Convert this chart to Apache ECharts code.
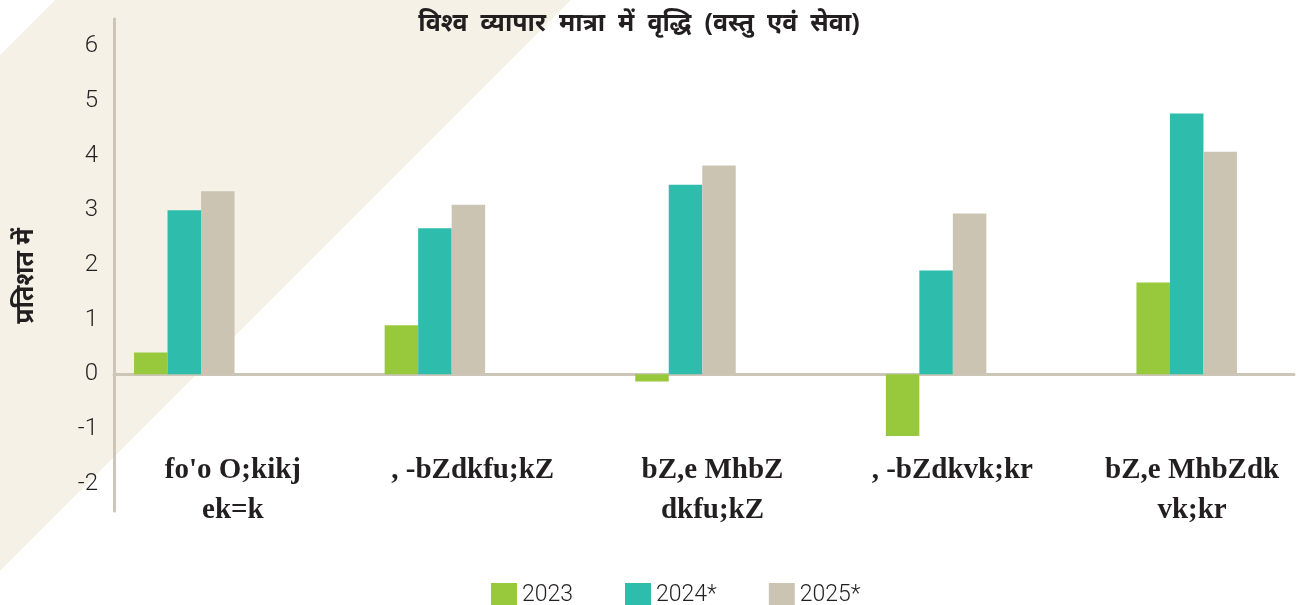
<!DOCTYPE html>
<html>
<head>
<meta charset="utf-8">
<title>विश्व व्यापार मात्रा में वृद्धि</title>
<script src="https://cdn.jsdelivr.net/npm/echarts@6/dist/echarts.min.js"></script>
<style>
  * { margin: 0; padding: 0 }
  html, body { width: 100%; height: 100%; background: #fff; }
  #main { width: 1312px; height: 605px; }
</style>
</head>
<body>
<div id="main"></div>
<script>
// categories (legacy font-encoded labels, as shown in the picture)
var categories = ["fo'o O;kikj\nek=k", ", -bZdkfu;kZ", "bZ,e MhbZ\ndkfu;kZ", ", -bZdkvk;kr", "bZ,e MhbZdk\nvk;kr"];
var seriesNames = ['2023', '2024*', '2025*'];
var values2023 = [0.4, 0.9, -0.13, -1.13, 1.68];
var values2024 = [3.0, 2.67, 3.47, 1.9, 4.77];
var values2025 = [3.35, 3.1, 3.82, 2.94, 4.07];
var yTicks = [-2, -1, 0, 1, 2, 3, 4, 5, 6];

var colors = ['#98c83c', '#2ebcad', '#cbc4b3'];
var axisColor = '#cbc6b7';
var textColor = '#231f20';
var numFont = 'Roboto';

var chart = echarts.init(document.getElementById('main'));

function yAxisHidden(grid) {
  return { gridIndex: grid, type: 'value', min: -2.5, max: 6.5, show: false };
}

chart.setOption({
  backgroundColor: '#ffffff',
  title: {
    text: 'विश्व  व्यापार  मात्रा  में  वृद्धि  (वस्तु  एवं  सेवा)',
    left: 634, top: 6, textAlign: 'center',
    textStyle: { fontFamily: 'Noto Sans', fontSize: 25, fontWeight: 'bold', color: textColor }
  },
  graphic: [{
    type: 'polygon', z: -100, silent: true,
    shape: { points: [[0, 55], [55, 0], [571, 0], [0, 571]] },
    style: { fill: '#f5f1e7' }
  }],
  legend: {
    data: seriesNames,
    left: 486, top: 578,
    icon: 'rect', itemWidth: 26, itemHeight: 24, itemGap: 52,
    textStyle: { fontFamily: numFont, fontWeight: 300, fontSize: 23, color: textColor }
  },
  grid: [
    { left: 114, right: 18, top: 19, bottom: 94 },   // axes
    { left: 113, right: -23, top: 19, bottom: 165 }, // category labels
    { left: 59, right: -19, top: 19, bottom: 94 }    // bars
  ],
  xAxis: [
    {
      gridIndex: 0, type: 'value', min: 0, max: 1,
      axisLine: { show: true, onZero: true, lineStyle: { color: axisColor, width: 3 } },
      axisTick: { show: false }, axisLabel: { show: false }, splitLine: { show: false }
    },
    {
      gridIndex: 1, type: 'category', data: categories, position: 'bottom',
      axisLine: { show: false, onZero: false },
      axisTick: { show: false }, splitLine: { show: false },
      axisLabel: {
        margin: 11, interval: 0,
        fontFamily: 'Liberation Serif', fontWeight: 'bold', fontSize: 29,
        lineHeight: 40, color: textColor
      }
    },
    { gridIndex: 2, type: 'category', data: categories, show: false }
  ],
  yAxis: [
    {
      gridIndex: 0, type: 'value', min: -2.5, max: 6.5,
      name: 'प्रतिशत में', nameLocation: 'middle', nameGap: 76, nameRotate: 90,
      nameTextStyle: { fontFamily: 'Noto Sans', fontSize: 25, fontWeight: 'bold', color: textColor, padding: [0, 22, 0, 0] },
      axisLine: { show: true, onZero: false, lineStyle: { color: axisColor, width: 3 } },
      axisTick: { show: false }, splitLine: { show: false },
      axisLabel: { customValues: yTicks, margin: 16, fontFamily: numFont, fontWeight: 300, fontSize: 24, color: textColor }
    },
    yAxisHidden(1),
    yAxisHidden(2)
  ],
  series: [
    { name: seriesNames[0], type: 'bar', xAxisIndex: 2, yAxisIndex: 2, data: values2023,
      barWidth: 33.5, barGap: 0, itemStyle: { color: colors[0] } },
    { name: seriesNames[1], type: 'bar', xAxisIndex: 2, yAxisIndex: 2, data: values2024,
      barWidth: 33.5, barGap: 0, itemStyle: { color: colors[1] } },
    { name: seriesNames[2], type: 'bar', xAxisIndex: 2, yAxisIndex: 2, data: values2025,
      barWidth: 33.5, barGap: 0, itemStyle: { color: colors[2] } }
  ]
});
</script>
</body>
</html>
